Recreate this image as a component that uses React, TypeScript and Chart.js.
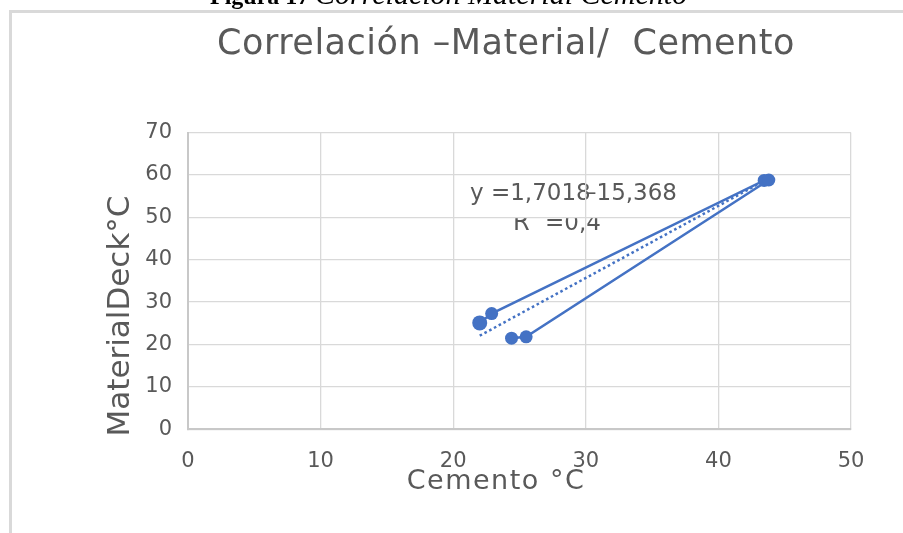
import React, { useEffect, useRef } from "react";
import { Chart, registerables } from "chart.js";

Chart.register(...registerables);

// ---- data ----
const cementoValues = [22.0, 22.9, 43.45, 43.8, 25.5, 24.4];
const materialValues = [25.1, 27.3, 58.7, 58.8, 21.8, 21.5];
const pointSizes = [7.5, 6.5, 6.5, 6.5, 6.5, 6.5];
const trendSlope = 1.7018;
const trendIntercept = -15.368;
const trendRange = [22.0, 43.6];
const xTickValues = [0, 10, 20, 30, 40, 50];
const yTickValues = [0, 10, 20, 30, 40, 50, 60, 70];

const chartTitle = "Correlación –Material/  Cemento";
const xTitle = "Cemento °C";
const yTitle = "MaterialDeck°C";
const captionBold = "Figura 17";
const captionItalic = "Correlación Material Cemento";
const eqPart1 = "y =1,7018";
const eqPart2 = "–15,368";
const r2Letter = "R";
const r2Exp = "2";
const r2Value = "=0,4";

const SANS = "'DejaVu Sans', sans-serif";
const TEXT = "#595959";
const BLUE = "#4472C4";

const decorPlugin = {
  id: "decor",
  beforeDraw(chart: any) {
    const ctx = chart.ctx as CanvasRenderingContext2D;
    ctx.save();
    // frame
    ctx.fillStyle = "#d9d9d9";
    ctx.fillRect(9, 10, 3, 523);
    ctx.fillRect(9, 10, 894, 3);
    // caption (cut at top)
    ctx.fillStyle = "#000";
    ctx.textBaseline = "alphabetic";
    ctx.textAlign = "left";
    ctx.font = "bold 24px 'Liberation Serif', serif";
    ctx.fillText(captionBold, 210, 4);
    ctx.font = "italic 30px 'Liberation Serif', serif";
    ctx.fillText(captionItalic, 315, 4);
    // chart title
    ctx.fillStyle = TEXT;
    ctx.textAlign = "center";
    ctx.font = `35px ${SANS}`;
    (ctx as any).letterSpacing = "0.5px";
    ctx.fillText(chartTitle, 506, 54);
    // x title
    ctx.font = `27px ${SANS}`;
    (ctx as any).letterSpacing = "1.5px";
    ctx.fillText(xTitle, 496, 489);
    (ctx as any).letterSpacing = "0px";
    // y title
    ctx.save();
    ctx.translate(129, 316);
    ctx.rotate(-Math.PI / 2);
    ctx.font = `31px ${SANS}`;
    ctx.fillText(yTitle, 0, 0);
    ctx.restore();
    // equation
    ctx.textAlign = "left";
    ctx.font = `23px ${SANS}`;
    ctx.fillText(eqPart1, 470, 199.5);
    ctx.fillText(eqPart2, 585, 199.5);
    ctx.save();
    ctx.beginPath();
    ctx.rect(0, 217.5, 903, 100);
    ctx.clip();
    ctx.font = `24px ${SANS}`;
    ctx.fillText(r2Letter, 513, 229.5);
    ctx.font = `14px ${SANS}`;
    ctx.fillText(r2Exp, 531, 214);
    ctx.font = `23px ${SANS}`;
    ctx.fillText(r2Value, 545, 229.5);
    ctx.restore();
    ctx.restore();
  },
};

export default function App() {
  const ref = useRef<HTMLCanvasElement | null>(null);
  useEffect(() => {
    if (!ref.current) return;
    const seriesPoints = cementoValues.map((x, i) => ({ x, y: materialValues[i] }));
    const trendPoints = trendRange.map((x) => ({ x, y: trendSlope * x + trendIntercept }));
    const chart = new Chart(ref.current, {
      type: "scatter",
      data: {
        datasets: [
          {
            data: seriesPoints,
            showLine: true,
            borderColor: BLUE,
            backgroundColor: BLUE,
            borderWidth: 2.5,
            pointRadius: pointSizes,
            pointBorderWidth: 0,
            pointBackgroundColor: BLUE,
          },
          {
            data: trendPoints,
            showLine: true,
            borderColor: BLUE,
            borderWidth: 2.5,
            borderDash: [2.6, 2.8],
            pointRadius: 0,
          },
        ],
      },
      options: {
        animation: false,
        responsive: false,
        maintainAspectRatio: false,
        devicePixelRatio: 1,
        layout: { padding: { left: 0, top: 132.5, right: 52, bottom: 0 } },
        plugins: { legend: { display: false }, tooltip: { enabled: false }, title: { display: false } },
        scales: {
          x: {
            type: "linear",
            min: xTickValues[0],
            max: xTickValues[xTickValues.length - 1],
            afterBuildTicks: (s: any) => {
              s.ticks = xTickValues.map((v) => ({ value: v }));
            },
            afterFit: (s: any) => {
              s.height = 533 - 429.3;
            },
            ticks: { color: TEXT, font: { family: "DejaVu Sans", size: 21 }, padding: 20, maxRotation: 0 },
            grid: { color: "#d9d9d9", lineWidth: 1.3, drawTicks: false },
            border: { color: "#c8c8c8", width: 2 },
          },
          y: {
            type: "linear",
            min: yTickValues[0],
            max: yTickValues[yTickValues.length - 1],
            afterBuildTicks: (s: any) => {
              s.ticks = yTickValues.map((v) => ({ value: v }));
            },
            afterFit: (s: any) => {
              s.width = 188;
            },
            ticks: { color: TEXT, font: { family: "DejaVu Sans", size: 21 }, padding: 16 },
            grid: { color: "#d9d9d9", lineWidth: 1.3, drawTicks: false },
            border: { color: "#c8c8c8", width: 2 },
          },
        },
      },
      plugins: [decorPlugin],
    } as any);
    return () => chart.destroy();
  }, []);
  return (
    <div style={{ position: "absolute", left: 0, top: 0, width: 903, height: 533, background: "#fff" }}>
      <canvas ref={ref} width={903} height={533} style={{ display: "block", width: 903, height: 533 }} />
    </div>
  );
}
